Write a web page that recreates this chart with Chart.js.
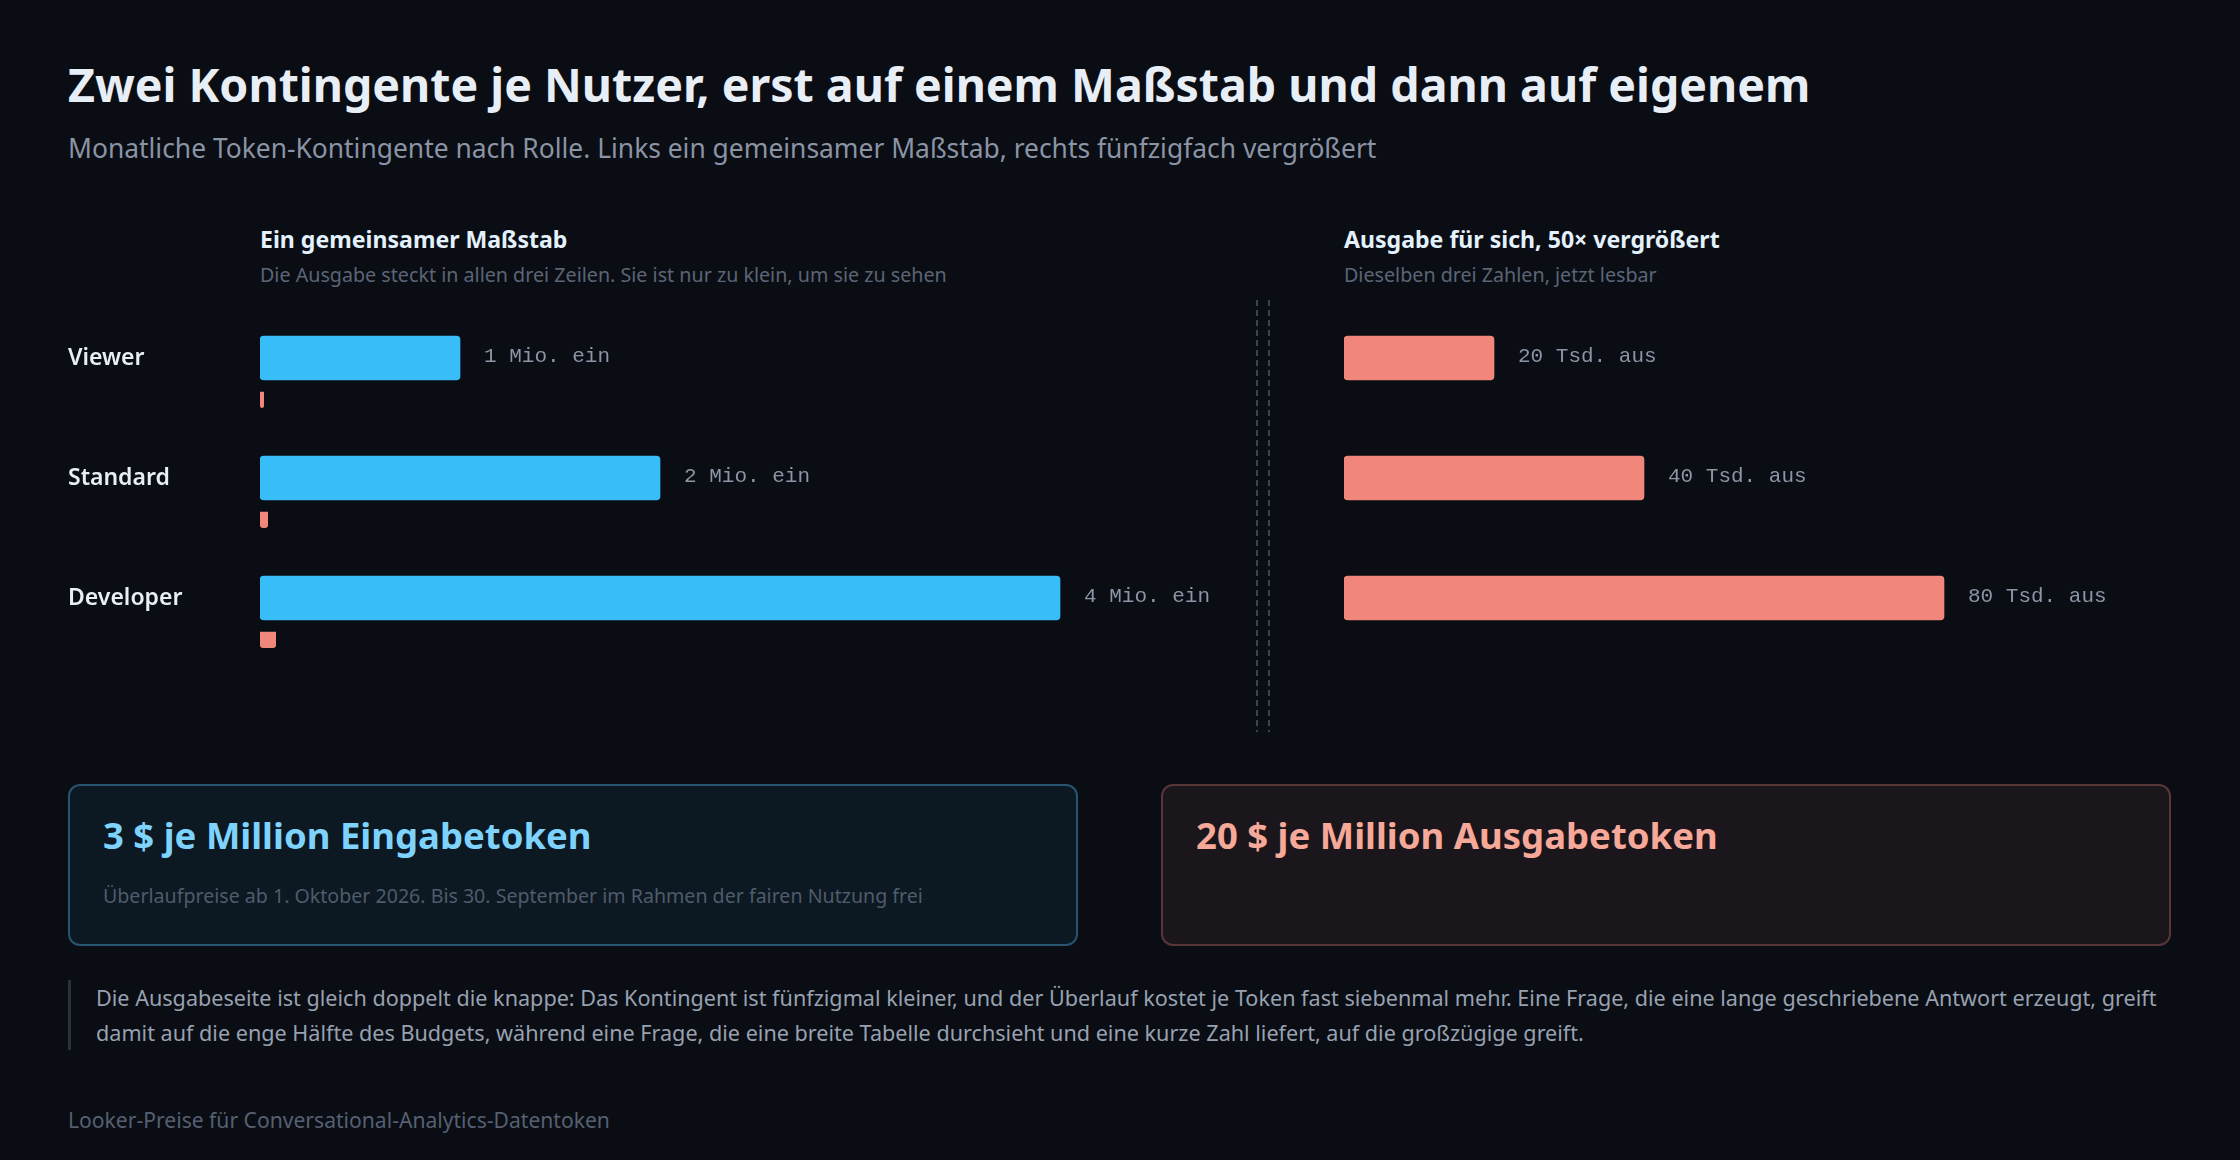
<!DOCTYPE html>
<html lang="de">
<head>
<meta charset="utf-8">
<script src="https://cdn.jsdelivr.net/npm/chart.js@4.4.1/dist/chart.umd.min.js"></script>
<style>
  html, body { margin: 0; padding: 0; }
  body {
    width: 2240px; height: 1160px; position: relative; overflow: hidden;
    background: #0a0d14; font-family: "Noto Sans", Lato, sans-serif;
  }
  .abs { position: absolute; white-space: nowrap; line-height: 1; }
  #title { left: 68px; top: 61px; font-size: 46.5px; font-weight: 700; color: #e8eef6; }
  #subtitle { left: 68px; top: 135px; font-size: 26.4px; color: #8a94a4; }
  .panel-head { top: 228px; font-size: 23.1px; font-weight: 700; color: #e3f1fc; }
  .panel-sub { top: 265px; font-size: 19.7px; color: #5b6576; }
  .divider { position: absolute; top: 300px; width: 2px; height: 432px;
    background: repeating-linear-gradient(to bottom, #3b4353 0 6px, transparent 6px 10px); }
  canvas { position: absolute; }
  .card { position: absolute; top: 784px; width: 1010px; height: 162px; box-sizing: border-box;
    border-radius: 12px; border: 2px solid; }
  .card h2 { position: absolute; left: 33px; top: 31px; margin: 0; font-size: 36.5px; font-weight: 700; line-height: 1; white-space: nowrap; }
  .card p { position: absolute; left: 33px; top: 100px; margin: 0; font-size: 19.6px; line-height: 1; color: #505b6b; white-space: nowrap; }
  #card-in { left: 68px; background: #0c1822; border-color: #27546e; }
  #card-in h2 { color: #7dd3fc; }
  #card-out { left: 1161px; background: #1b161b; border-color: #5a3538; }
  #card-out h2 { color: #f6a899; }
  #note { position: absolute; left: 68px; top: 980px; width: 2104px; box-sizing: border-box; white-space: nowrap;
    border-left: 3px solid #2a313c; padding-left: 25px; font-size: 21.6px; line-height: 35px; color: #98a1b0; }
  #footer { left: 68px; top: 1109px; font-size: 21.1px; color: #566071; }
</style>
</head>
<body>
<div class="abs" id="title">Zwei Kontingente je Nutzer, erst auf einem Maßstab und dann auf eigenem</div>
<div class="abs" id="subtitle">Monatliche Token-Kontingente nach Rolle. Links ein gemeinsamer Maßstab, rechts fünfzigfach vergrößert</div>

<div class="abs panel-head" style="left:260px">Ein gemeinsamer Maßstab</div>
<div class="abs panel-sub" style="left:260px">Die Ausgabe steckt in allen drei Zeilen. Sie ist nur zu klein, um sie zu sehen</div>
<div class="abs panel-head" style="left:1344px">Ausgabe für sich, 50× vergrößert</div>
<div class="abs panel-sub" style="left:1344px">Dieselben drei Zahlen, jetzt lesbar</div>

<div class="divider" style="left:1256px"></div>
<div class="divider" style="left:1268px"></div>

<canvas id="leftChart" style="left:68px; top:320px;" width="1192" height="360"></canvas>
<canvas id="rightChart" style="left:1344px; top:298px;" width="896" height="360"></canvas>

<div class="card" id="card-in">
  <h2>3 $ je Million Eingabetoken</h2>
  <p>Überlaufpreise ab 1. Oktober 2026. Bis 30. September im Rahmen der fairen Nutzung frei</p>
</div>
<div class="card" id="card-out">
  <h2>20 $ je Million Ausgabetoken</h2>
</div>

<div id="note">Die Ausgabeseite ist gleich doppelt die knappe: Das Kontingent ist fünfzigmal kleiner, und der Überlauf kostet je Token fast siebenmal mehr. Eine Frage, die eine lange geschriebene Antwort erzeugt, greift<br>damit auf die enge Hälfte des Budgets, während eine Frage, die eine breite Tabelle durchsieht und eine kurze Zahl liefert, auf die großzügige greift.</div>

<div class="abs" id="footer">Looker-Preise für Conversational-Analytics-Datentoken</div>

<script>
const roles = ['Viewer', 'Standard', 'Developer'];
const inputMio = [1, 2, 4];          // Eingabe-Kontingent in Mio. Token
const outputTsd = [20, 40, 80];      // Ausgabe-Kontingent in Tsd. Token
const inputLabels = ['1 Mio. ein', '2 Mio. ein', '4 Mio. ein'];
const outputLabels = ['20 Tsd. aus', '40 Tsd. aus', '80 Tsd. aus'];
const leftMax = 5;     // Mio.
const rightMax = 100;  // Tsd.

const blue = '#38bdf8';
const salmon = '#f0877a';

Chart.defaults.animation = false;

// Beschriftung rechts neben den Balken
function valueLabels(texts) {
    return {
        id: 'valueLabels',
        afterDatasetsDraw(chart) {
            const ctx = chart.ctx;
            const meta = chart.getDatasetMeta(0);
            ctx.save();
            ctx.font = '21px "Liberation Mono", "DejaVu Sans Mono", monospace';
            ctx.fillStyle = '#8b95a5';
            ctx.textAlign = 'left';
            ctx.textBaseline = 'middle';
            meta.data.forEach((bar, i) => {
                ctx.fillText(texts[i], bar.x + 24, bar.y - 2);
            });
            ctx.restore();
        }
    };
}

new Chart(document.getElementById('leftChart'), {
    type: 'bar',
    data: {
        labels: roles,
        datasets: [{
            label: 'Eingabe',
            data: inputMio,
            backgroundColor: blue,
            barThickness: 44,
            borderRadius: 4,
            borderSkipped: false
        }, {
            label: 'Ausgabe',
            data: outputTsd.map(v => v / 1000),
            backgroundColor: salmon,
            borderColor: 'rgba(0,0,0,0)',
            borderWidth: { top: 12, right: 0, bottom: 0, left: 0 },
            barThickness: 28,
            borderRadius: 3,
            borderSkipped: false
        }]
    },
    options: {
        indexAxis: 'y',
        responsive: false,
        layout: { padding: 0 },
        plugins: { legend: { display: false }, tooltip: { enabled: false } },
        scales: {
            x: { min: 0, max: leftMax, display: false },
            y: {
                grid: { display: false, drawTicks: false },
                border: { display: false },
                afterFit(scale) {
                    scale.width = 192;
                    scale.paddingTop = 0;
                    scale.paddingBottom = 0;
                },
                ticks: {
                    crossAlign: 'far',
                    padding: 0,
                    labelOffset: -22,
                    color: '#e8eef6',
                    font: { family: '"Noto Sans", Lato, sans-serif', size: 23, weight: '600' }
                }
            }
        }
    },
    plugins: [valueLabels(inputLabels)]
});

new Chart(document.getElementById('rightChart'), {
    type: 'bar',
    data: {
        labels: roles,
        datasets: [{
            label: 'Ausgabe',
            data: outputTsd,
            backgroundColor: salmon,
            barThickness: 44,
            borderRadius: 4,
            borderSkipped: false
        }]
    },
    options: {
        indexAxis: 'y',
        responsive: false,
        layout: { padding: { right: 146 } },
        plugins: { legend: { display: false }, tooltip: { enabled: false } },
        scales: {
            x: { min: 0, max: rightMax, display: false },
            y: { display: false }
        }
    },
    plugins: [valueLabels(outputLabels)]
});
</script>
</body>
</html>
